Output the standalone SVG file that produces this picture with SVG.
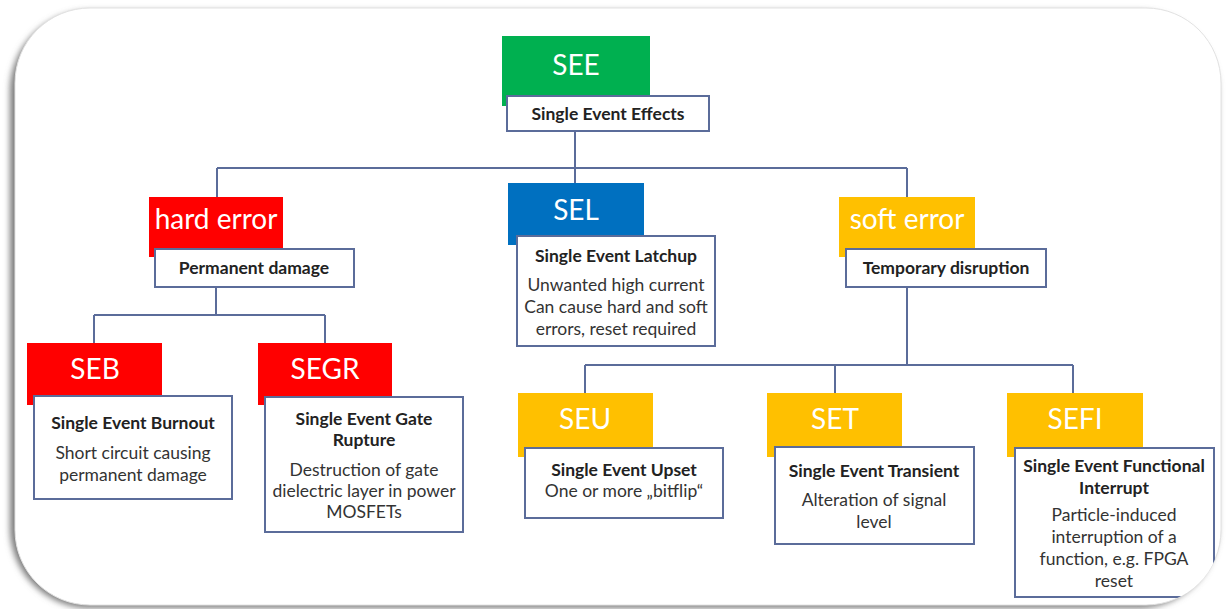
<svg xmlns="http://www.w3.org/2000/svg" width="1227" height="609" viewBox="0 0 1227 609">
<defs>
<filter id="sh" x="-5%" y="-5%" width="110%" height="110%"><feGaussianBlur stdDeviation="3"/></filter>
<clipPath id="fc"><rect x="15" y="8" width="1206" height="597" rx="75" ry="75"/></clipPath>
<style>
.lbl{font-family:Lato,"Open Sans","Liberation Sans",sans-serif;fill:#fff;text-anchor:middle;font-size:28px}
.box{fill:#fff;stroke:#5b6c9a;stroke-width:2}
.t{font-family:Lato,"Open Sans","Liberation Sans",sans-serif;fill:#222;text-anchor:middle;font-size:17.5px;font-weight:bold}
.d{font-family:Lato,"Open Sans","Liberation Sans",sans-serif;fill:#333;text-anchor:middle;font-size:17.5px}
.c{fill:none;stroke:#5b6c9a;stroke-width:2}
.g{fill:#00b050}.r{fill:#ff0000}.b{fill:#0070c0}.y{fill:#ffc000}
</style>
</defs>
<rect x="0" y="0" width="1227" height="609" fill="#fff"/>
<g id="frame">
<rect x="10" y="11" width="1208" height="597" rx="80" ry="80" fill="#7a7a7a" filter="url(#sh)"/>
<rect x="15" y="8" width="1206" height="597" rx="75" ry="75" fill="#fff" stroke="#e2e2e2" stroke-width="1"/>
</g>
<g clip-path="url(#fc)">
<g id="connectors">
<path class="c" d="M575 131V168M217 168H907M217 168V197M575 168V183M907 168V197"/>
<path class="c" d="M216 287V315M94 315H325M94 315V343M325 315V343"/>
<path class="c" d="M907 287V365M585 365H1073M585 365V393M835 365V393M1073 365V393"/>
</g>
<g id="SEE">
<rect class="g" x="502" y="36" width="148" height="70"/>
<text class="lbl" x="576" y="75">SEE</text>
<rect class="box" x="507" y="96" width="202" height="35"/>
<text class="t" x="608" y="120">Single Event Effects</text>
</g>
<g id="hard-error">
<rect class="r" x="149" y="197" width="134" height="60"/>
<text class="lbl" x="216" y="229">hard error</text>
<rect class="box" x="155" y="249" width="199" height="38"/>
<text class="t" x="254" y="274">Permanent damage</text>
</g>
<g id="SEL">
<rect class="b" x="508" y="183" width="136" height="62"/>
<text class="lbl" x="576" y="220">SEL</text>
<rect class="box" x="517" y="236" width="198" height="110"/>
<text class="t" x="616" y="262">Single Event Latchup</text>
<text class="d" x="616" y="291">Unwanted high current</text>
<text class="d" x="616" y="313">Can cause hard and soft</text>
<text class="d" x="616" y="335">errors, reset required</text>
</g>
<g id="soft-error">
<rect class="y" x="839" y="197" width="136" height="60"/>
<text class="lbl" x="907" y="229">soft error</text>
<rect class="box" x="846" y="249" width="200" height="38"/>
<text class="t" x="946" y="274">Temporary disruption</text>
</g>
<g id="SEB">
<rect class="r" x="27" y="343" width="135" height="62"/>
<text class="lbl" x="95" y="379">SEB</text>
<rect class="box" x="34" y="396" width="198" height="103"/>
<text class="t" x="133" y="429">Single Event Burnout</text>
<text class="d" x="133" y="459">Short circuit causing</text>
<text class="d" x="133" y="481">permanent damage</text>
</g>
<g id="SEGR">
<rect class="r" x="258" y="343" width="134" height="62"/>
<text class="lbl" x="325" y="379">SEGR</text>
<rect class="box" x="265" y="397" width="198" height="135"/>
<text class="t" x="364" y="425">Single Event Gate</text>
<text class="t" x="364" y="446">Rupture</text>
<text class="d" x="364" y="476">Destruction of gate</text>
<text class="d" x="364" y="497">dielectric layer in power</text>
<text class="d" x="364" y="518">MOSFETs</text>
</g>
<g id="SEU">
<rect class="y" x="518" y="393" width="135" height="64"/>
<text class="lbl" x="585" y="429">SEU</text>
<rect class="box" x="525" y="448" width="198" height="70"/>
<text class="t" x="624" y="476">Single Event Upset</text>
<text class="d" x="624" y="497">One or more „bitflip“</text>
</g>
<g id="SET">
<rect class="y" x="767" y="393" width="135" height="64"/>
<text class="lbl" x="835" y="429">SET</text>
<rect class="box" x="775" y="447" width="199" height="97"/>
<text class="t" x="874" y="477">Single Event Transient</text>
<text class="d" x="874" y="506">Alteration of signal</text>
<text class="d" x="874" y="528">level</text>
</g>
<g id="SEFI">
<rect class="y" x="1007" y="393" width="136" height="64"/>
<text class="lbl" x="1075" y="429">SEFI</text>
<rect class="box" x="1015" y="448" width="199" height="149"/>
<text class="t" x="1114" y="472">Single Event Functional</text>
<text class="t" x="1114" y="494">Interrupt</text>
<text class="d" x="1114" y="521">Particle-induced</text>
<text class="d" x="1114" y="543">interruption of a</text>
<text class="d" x="1114" y="565">function, e.g. FPGA</text>
<text class="d" x="1114" y="587">reset</text>
</g>
</g>
</svg>
